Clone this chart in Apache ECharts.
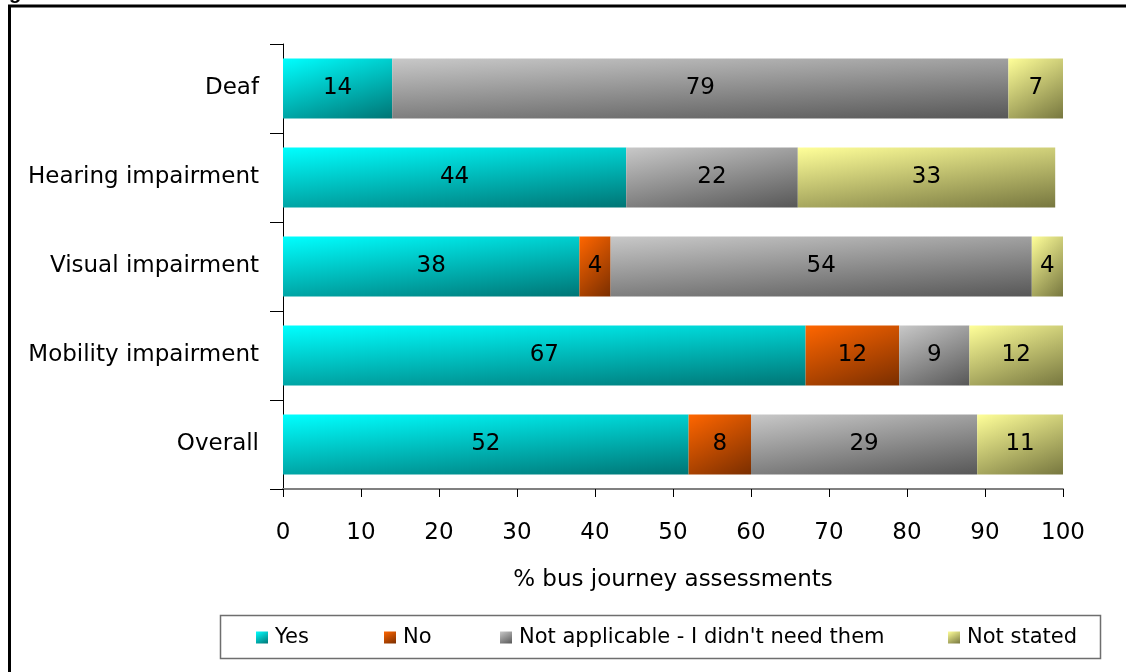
<!DOCTYPE html>
<html>
<head>
<meta charset="utf-8">
<style>
  html, body { margin: 0; padding: 0; background: #ffffff; }
  #chart { width: 1126px; height: 672px; }
</style>
<script src="https://cdn.jsdelivr.net/npm/echarts@6/dist/echarts.min.js"></script>
</head>
<body>
<div id="chart"></div>
<script>
// Bus journey assessments by impairment group (% of assessments)
const categories = ['Deaf', 'Hearing impairment', 'Visual impairment', 'Mobility impairment', 'Overall'];
const yesValues = [14, 44, 38, 67, 52];
const noValues = [null, null, 4, 12, 8];
const notApplicableValues = [79, 22, 54, 9, 29];
const notStatedValues = [7, 33, 4, 12, 11];
const seriesNames = ['Yes', 'No', 'Not applicable - I didn\'t need them', 'Not stated'];
const xTickValues = [0, 10, 20, 30, 40, 50, 60, 70, 80, 90, 100];

const FONT = '"DejaVu Sans", "Liberation Sans", Arial, sans-serif';
const FONT_SIZE = 23;

// light (top-left) to dark (bottom-right) shading for each series
const shades = [
  ['#00ffff', '#007575'],
  ['#ff6600', '#7a2e00'],
  ['#c8c8c8', '#575757'],
  ['#ffff99', '#77773f']
];

// Diagonal shading that blends mostly top-to-bottom, a bit left-to-right,
// regardless of how wide a segment is. aspect = width / height of the segment.
function shade(colors, aspect) {
  const p = 0.35, q = 0.65;
  const r = Math.max(aspect, 0.05);
  const k = 1 / (p * p / (r * r) + q * q);
  return {
    type: 'linear', x: 0, y: 0, x2: k * p / (r * r), y2: k * q,
    colorStops: [{ offset: 0, color: colors[0] }, { offset: 1, color: colors[1] }]
  };
}

// width-to-height ratio of one percentage unit against the 60px bar height
const UNIT_ASPECT = 7.8 / 60;

function makeSeries(name, values, colors) {
  return {
    name: name,
    type: 'bar',
    stack: 'total',
    barWidth: 60,
    itemStyle: { color: shade(colors, 1) },
    label: {
      show: true,
      position: 'inside',
      color: '#000',
      fontSize: FONT_SIZE,
      fontFamily: FONT,
      formatter: p => (p.value == null ? '' : String(p.value))
    },
    data: values.map(v => (v == null ? null : {
      value: v,
      itemStyle: { color: shade(colors, v * UNIT_ASPECT) }
    }))
  };
}

// one legend entry per series, spaced along the framed key at the bottom
const legendLefts = [256, 384, 500, 948];
const legends = seriesNames.map((name, i) => ({
  data: [name],
  left: legendLefts[i],
  top: 627,
  padding: 0,
  itemWidth: 12,
  itemHeight: 12,
  itemGap: 0,
  icon: 'rect',
  textStyle: { color: '#000', fontSize: 21, fontFamily: FONT, padding: [0, 0, 0, 2] }
}));

const chart = echarts.init(document.getElementById('chart'), null, { renderer: 'canvas' });

chart.setOption({
  animation: false,
  backgroundColor: '#ffffff',
  grid: { left: 283, right: 63, top: 44, bottom: 183, containLabel: false },
  xAxis: {
    type: 'value',
    min: xTickValues[0],
    max: xTickValues[xTickValues.length - 1],
    interval: xTickValues[1] - xTickValues[0],
    name: '% bus journey assessments',
    nameLocation: 'middle',
    nameGap: 80,
    nameTextStyle: { color: '#000', fontSize: FONT_SIZE, fontFamily: FONT },
    axisLine: { show: true, lineStyle: { color: '#808080', width: 2 } },
    axisTick: { show: true, length: 8, lineStyle: { color: '#000', width: 1 } },
    axisLabel: { color: '#000', fontSize: FONT_SIZE, fontFamily: FONT, margin: 33 },
    splitLine: { show: false }
  },
  yAxis: {
    type: 'category',
    data: categories,
    inverse: true,
    axisLine: { show: true, lineStyle: { color: '#000', width: 1 } },
    axisTick: { show: true, length: 13, lineStyle: { color: '#000', width: 1 } },
    axisLabel: { color: '#000', fontSize: FONT_SIZE, fontFamily: FONT, margin: 24 },
    splitLine: { show: false }
  },
  legend: legends,
  graphic: [
    {
      type: 'rect',
      shape: { x: 9.5, y: 6, width: 1300, height: 1000 },
      style: { fill: 'none', stroke: '#000', lineWidth: 3 },
      silent: true
    },
    {
      type: 'text',
      left: 9,
      top: -17,
      style: { text: 'g', fill: '#000', font: 'bold 20px "Liberation Sans", Arial, sans-serif' },
      silent: true
    },
    {
      type: 'rect',
      shape: { x: 220.5, y: 615.5, width: 880, height: 43 },
      style: { fill: '#fff', stroke: '#6e6e6e', lineWidth: 1.5 },
      z: -1,
      silent: true
    }
  ],
  series: [
    makeSeries(seriesNames[0], yesValues, shades[0]),
    makeSeries(seriesNames[1], noValues, shades[1]),
    makeSeries(seriesNames[2], notApplicableValues, shades[2]),
    makeSeries(seriesNames[3], notStatedValues, shades[3])
  ]
});
</script>
</body>
</html>
